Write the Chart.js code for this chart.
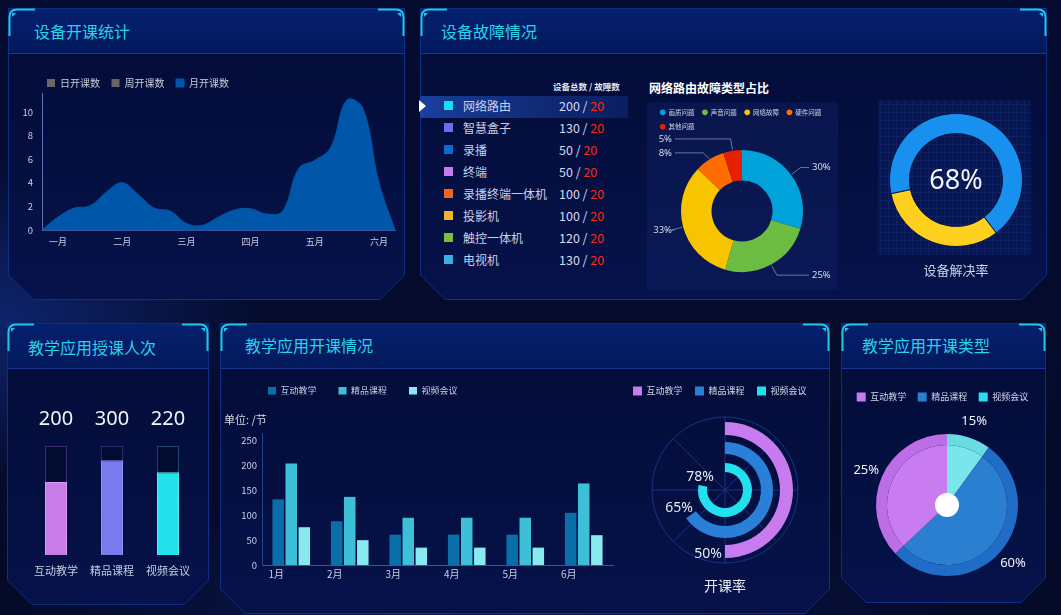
<!DOCTYPE html>
<html><head><meta charset="utf-8">
<script src="https://cdn.jsdelivr.net/npm/chart.js@4.4.1/dist/chart.umd.min.js"></script>
<style>
html,body{margin:0;padding:0;}
body{width:1061px;height:615px;overflow:hidden;position:relative;font-family:"Noto Sans CJK SC","Noto Sans",sans-serif;
background:
 radial-gradient(ellipse 380px 240px at 0px 320px, rgba(22,56,160,0.55), rgba(0,0,0,0) 70%),
 radial-gradient(ellipse 700px 260px at 480px 650px, rgba(22,44,140,0.45), rgba(0,0,0,0) 70%),
 linear-gradient(180deg,#050c30,#040a28);}
#frames{position:absolute;left:0;top:0;}
canvas{position:absolute;}
.title{position:absolute;color:#27d2ec;font-size:16px;line-height:20px;white-space:nowrap;}
.t2{position:absolute;white-space:nowrap;}
.sq{position:absolute;width:9px;height:9px;}
.nm{position:absolute;font-size:12px;line-height:18px;color:#c8d0ea;white-space:nowrap;}
.num{position:absolute;font-size:12.5px;line-height:18px;color:#d4dbf0;white-space:nowrap;}
.red{color:#ff2a12;}
</style></head>
<body>
<div id="frames"></div>
<div id="texts"></div>
<canvas id="c1" width="397" height="195" style="left:8px;top:60px"></canvas>
<canvas id="c2" width="195" height="190" style="left:645px;top:100px"></canvas>
<canvas id="c3" width="170" height="195" style="left:870px;top:95px"></canvas>
<canvas id="c4" width="202" height="220" style="left:7px;top:380px"></canvas>
<canvas id="c5" width="400" height="225" style="left:220px;top:375px"></canvas>
<canvas id="c6" width="200" height="220" style="left:630px;top:380px"></canvas>
<canvas id="c7" width="200" height="220" style="left:845px;top:380px"></canvas>
<script>
// ================= DATA =================
const panelTitles = ['设备开课统计','设备故障情况','教学应用授课人次','教学应用开课情况','教学应用开课类型'];

const areaMonths = ['一月','二月','三月','四月','五月','六月'];
const areaDaily = [];
const areaWeekly = [];
const areaMonthly = [0,1.1,1.85,2.05,3.2,4.0,3.0,1.85,1.6,0.55,0.4,1.1,1.7,1.8,1.35,1.6,5.2,5.9,7.0,11.0,10.3,4.0,0];

const deviceNames = ['网络路由','智慧盒子','录播','终端','录播终端一体机','投影机','触控一体机','电视机'];
const deviceTotals = [200,130,50,50,100,100,120,130];
const deviceFaults = [20,20,20,20,20,20,20,20];

const faultTypes = ['画质问题','声音问题','网络故障','硬件问题','其他问题'];
const faultShares = [30,25,33,8,5];

const resolveRate = 68;

const appTypes = ['互动教学','精品课程','视频会议'];
const lessonCounts = [200,300,220];
const lessonFillPct = [67,87,76];
const lessonTrack = [100,100,100];

const months = ['1月','2月','3月','4月','5月','6月'];
const interactiveCounts = [132,88,61,61,61,105];
const qualityCounts = [204,137,95,95,95,164];
const meetingCounts = [76,50,35,35,35,60];

const openRates = [50,65,78];

const typeShares = [37,53,10];
const typeLabels = ['25%','60%','15%'];

// ================= STYLE / LAYOUT =================
const FONT = '"Noto Sans CJK SC","Noto Sans",sans-serif';
Chart.defaults.font.family = FONT;
Chart.defaults.animation = false;
Chart.defaults.devicePixelRatio = 1;

const panels = [
 {x1:8,y1:8,x2:405,y2:300,hb:53,c:25,tx:34,ty:21},
 {x1:420,y1:8,x2:1047,y2:300,hb:53,c:25,tx:441,ty:21},
 {x1:7,y1:323,x2:209,y2:605,hb:368,c:25,tx:28,ty:337},
 {x1:220,y1:323,x2:830,y2:614,hb:368,c:25,tx:245,ty:335},
 {x1:841,y1:323,x2:1046,y2:603,hb:368,c:25,tx:862,ty:335}
];
(function drawFrames(){
  let s = '<svg width="1061" height="615" xmlns="http://www.w3.org/2000/svg"><defs>'+
   '<linearGradient id="gb" x1="0" y1="0" x2="0" y2="1"><stop offset="0" stop-color="#030c36"/><stop offset="1" stop-color="#06124a"/></linearGradient>'+
   '<linearGradient id="gh" x1="0" y1="0" x2="0" y2="1"><stop offset="0" stop-color="#05206e"/><stop offset="1" stop-color="#03195c"/></linearGradient>'+
   '<linearGradient id="gr" x1="0" y1="0" x2="1" y2="0"><stop offset="0" stop-color="#1a3f9e"/><stop offset="1" stop-color="#0f2a78" stop-opacity="0.6"/></linearGradient>'+
   '<pattern id="grid" width="8" height="8" patternUnits="userSpaceOnUse"><path d="M8 0.5 H0.5 V8" fill="none" stroke="rgba(60,95,190,0.16)" stroke-width="1"/></pattern>'+
   '</defs>';
  panels.forEach(p=>{
    const {x1,y1,x2,y2,hb,c} = p;
    const pts = `${x1+.5},${y1+.5} ${x2-.5},${y1+.5} ${x2-.5},${y2-c} ${x2-c},${y2-.5} ${x1+c},${y2-.5} ${x1+.5},${y2-c}`;
    s += `<polygon points="${pts}" fill="url(#gb)"/>`;
    s += `<rect x="${x1}" y="${y1}" width="${x2-x1}" height="${hb-y1}" fill="url(#gh)"/>`;
    s += `<line x1="${x1}" y1="${hb+.5}" x2="${x2}" y2="${hb+.5}" stroke="#16398f" stroke-width="1"/>`;
    s += `<polygon points="${pts}" fill="none" stroke="#0f2f86" stroke-width="1"/>`;
    s += `<path d="M${x1+1.5} ${y1+28} V${y1+9} Q${x1+1.5} ${y1+1.5} ${x1+9} ${y1+1.5} H${x1+27}" fill="none" stroke="#1fc6e6" stroke-width="2"/>`;
    s += `<path d="M${x2-1.5} ${y1+28} V${y1+9} Q${x2-1.5} ${y1+1.5} ${x2-9} ${y1+1.5} H${x2-27}" fill="none" stroke="#1fc6e6" stroke-width="2"/>`;
    s += `<path d="M${x1+4} ${y1+5} L${x1+8} ${y1+5} L${x1+4} ${y1+9}Z" fill="#1fc6e6"/>`;
    s += `<path d="M${x2-4} ${y1+5} L${x2-8} ${y1+5} L${x2-4} ${y1+9}Z" fill="#1fc6e6"/>`;
  });
  s += '<rect x="647" y="102" width="191" height="188" fill="rgba(16,34,100,0.45)"/>';
  s += '<rect x="878" y="100" width="153" height="155" fill="rgba(10,30,95,0.55)"/>';
  s += '<rect x="878" y="100" width="153" height="155" fill="url(#grid)"/>';
  s += '<rect x="420" y="96" width="208" height="22" fill="url(#gr)"/>';
  s += '<path d="M419 100 L426 106 L419 112Z" fill="#ffffff"/>';
  s += '</svg>';
  document.getElementById('frames').innerHTML = s;
})();

(function drawTexts(){
  let h = '';
  panels.forEach((p,i)=>{ h += `<div class="title" style="left:${p.tx}px;top:${p.ty}px">${panelTitles[i]}</div>`; });
  h += '<div class="t2" style="left:553px;top:79px;font-size:8.5px;line-height:14px;font-weight:bold;color:#e2e6f2">设备总数 / 故障数</div>';
  h += '<div class="t2" style="left:649px;top:80px;font-size:12px;line-height:16px;font-weight:bold;color:#ffffff">网络路由故障类型占比</div>';
  const deviceColors = ['#12e0f0','#6c6cf2','#0a6ad2','#c67cf0','#f26422','#f2b232','#7cbc3e','#3eaee2'];
  deviceNames.forEach((n,i)=>{
    const cy = 106 + 22*i;
    h += `<div class="sq" style="left:444px;top:${cy-5}px;background:${deviceColors[i]}"></div>`;
    h += `<div class="nm" style="left:463px;top:${cy-9}px">${n}</div>`;
    h += `<div class="num" style="left:559px;top:${cy-9}px">${deviceTotals[i]} / <span class="red">${deviceFaults[i]}</span></div>`;
  });
  document.getElementById('texts').innerHTML = h;
})();

// ---- legend positioning plugin (legend takes no layout space, placed at given spot) ----
const fixLegend = {
  id:'fixLegend',
  beforeLayout(chart, args, o){
    const lg = chart.legend;
    if (!lg || lg._fixed || o.x == null) return;
    const f = lg.fit.bind(lg);
    lg.fit = function(){ this.maxWidth = o.w || 500; f(); this.width = this.maxWidth; this.height = 0; };
    lg._fixed = true;
  },
  afterLayout(chart, args, o){
    const lg = chart.legend;
    if (!lg || o.x == null) return;
    const lo = lg.options.labels;
    const fs = o.fs;
    let bh = lo.boxHeight == null ? fs : lo.boxHeight;
    if (lo.usePointStyle) bh = Math.min(bh, fs);
    const ih = Math.max(fs, bh);
    lg.left = o.x - lo.padding; lg.right = lg.left + (o.w || 500);
    lg.top = o.y - lo.padding - ih/2; lg.bottom = lg.top + (o.h || 60);
  }
};
const noTip = {enabled:false};

// ================= CHART 1: area =================
new Chart(document.getElementById('c1'), {
  type:'line',
  data:{
    labels: areaMonthly.map((_,i)=> (i%4===1) ? areaMonths[(i-1)/4] : ''),
    datasets:[
      {label:'日开课数', data:areaDaily, backgroundColor:'#676767', borderColor:'#676767', borderWidth:0},
      {label:'周开课数', data:areaWeekly, backgroundColor:'#676767', borderColor:'#676767', borderWidth:0},
      {label:'月开课数', data:areaMonthly, backgroundColor:'#0056a8', borderColor:'#0056a8', borderWidth:1, fill:'origin', tension:0.4, pointRadius:0}
    ]
  },
  options:{
    responsive:false,
    layout:{padding:{left:0,right:10,top:33,bottom:5}},
    scales:{
      x:{grid:{display:false,drawTicks:false}, border:{color:'#33569e'},
         ticks:{autoSkip:false,maxRotation:0,color:'#c8cde0',font:{size:9},padding:6},
         afterFit:s=>{s.height=20;}},
      y:{min:0,max:11.6,grid:{display:false,drawTicks:false}, border:{color:'#5670b0'},
         ticks:{stepSize:2,includeBounds:false,color:'#c8cde0',font:{size:9.5},padding:9},
         afterBuildTicks:ax=>{ax.ticks = ax.ticks.filter(t=>t.value<=10 && t.value%2===0);},
         afterFit:s=>{s.width=34;}}
    },
    plugins:{
      legend:{align:'start',labels:{boxWidth:8,boxHeight:8,padding:11.5,color:'#c8ccd8',font:{size:10}}},
      fixLegend:{x:39,y:23,fs:10,w:380,h:30},
      tooltip:noTip
    }
  },
  plugins:[fixLegend]
});

// ================= CHART 2: fault donut =================
const donutLabels = {
  id:'donutLabels',
  afterDatasetsDraw(chart){
    const ctx = chart.ctx, meta = chart.getDatasetMeta(0);
    const items = meta.data.map((arc,i)=>{
      const mid = (arc.startAngle + arc.endAngle)/2;
      const cos = Math.cos(mid), sin = Math.sin(mid);
      const R = arc.outerRadius;
      return {i, cx:arc.x, cy:arc.y, right: cos>=0,
        p1:{x:arc.x+cos*(R+1), y:arc.y+sin*(R+1)},
        p2:{x:arc.x+cos*(R+12), y:arc.y+sin*(R+12)}, ly:arc.y+sin*(R+12)};
    });
    [true,false].forEach(side=>{
      const arr = items.filter(it=>it.right===side).sort((a,b)=>a.ly-b.ly);
      for (let k=1;k<arr.length;k++) if (arr[k].ly < arr[k-1].ly+14) arr[k].ly = arr[k-1].ly+14;
    });
    ctx.save();
    ctx.strokeStyle = 'rgba(150,160,185,0.7)'; ctx.lineWidth = 1;
    ctx.fillStyle = '#d6dae6'; ctx.font = '9.5px "Noto Sans",sans-serif'; ctx.textBaseline = 'middle';
    items.forEach(it=>{
      const ex = it.right ? it.cx + 67 : it.cx - 67;
      ctx.beginPath(); ctx.moveTo(it.p1.x,it.p1.y); ctx.lineTo(it.p2.x,it.ly); ctx.lineTo(ex,it.ly); ctx.stroke();
      ctx.textAlign = it.right ? 'left' : 'right';
      ctx.fillText(faultShares[it.i]+'%', it.right ? ex+3 : ex-3, it.ly);
    });
    ctx.restore();
  }
};
new Chart(document.getElementById('c2'), {
  type:'doughnut',
  data:{labels:faultTypes, datasets:[{data:faultShares,
    backgroundColor:['#00a2da','#6cbb42','#f6c500','#ff6c00','#e42000'], borderWidth:0, hoverOffset:0}]},
  options:{
    responsive:false, cutout:'50%',
    layout:{padding:{left:36,right:37,top:50,bottom:18}},
    plugins:{
      legend:{align:'start',labels:{usePointStyle:true,pointStyle:'circle',boxWidth:5,boxHeight:4,padding:8,color:'#d0d4e2',font:{size:6.5}}},
      fixLegend:{x:15.2,y:12.3,fs:6.5,w:190,h:40},
      tooltip:noTip
    }
  },
  plugins:[fixLegend, donutLabels]
});

// ================= CHART 3: resolve-rate gauge =================
const gaugeText = {
  id:'gaugeText',
  afterDraw(chart){
    const {ctx, chartArea:a} = chart;
    const cx = (a.left+a.right)/2, cy = (a.top+a.bottom)/2;
    ctx.save(); ctx.textAlign='center'; ctx.textBaseline='middle';
    ctx.fillStyle='#f4f6fa'; ctx.font='27px "Noto Sans",sans-serif';
    ctx.fillText(resolveRate+'%', cx, cy+1);
    ctx.fillStyle='#c8d0e4'; ctx.font='13px '+FONT;
    ctx.fillText('设备解决率', cx, a.bottom+23);
    ctx.restore();
  }
};
new Chart(document.getElementById('c3'), {
  type:'doughnut',
  data:{labels:['已解决','未解决'], datasets:[{data:[resolveRate,100-resolveRate],
    backgroundColor:['#1890f0','#fed11f'], borderColor:'#0a1640', borderWidth:1, hoverOffset:0}]},
  options:{responsive:false, cutout:'70%', rotation:258,
    layout:{padding:{left:19,right:17,top:18,bottom:43}},
    plugins:{legend:{display:false}, tooltip:noTip}},
  plugins:[gaugeText]
});

// ================= CHART 4: lesson counts (progress bars) =================
const countText = {
  id:'countText',
  afterDatasetsDraw(chart){
    const ctx = chart.ctx, meta = chart.getDatasetMeta(0), a = chart.chartArea;
    ctx.save(); ctx.textAlign='center'; ctx.textBaseline='middle';
    ctx.fillStyle='#f2f4f8'; ctx.font='20px "Noto Sans",sans-serif';
    meta.data.forEach((b,i)=> ctx.fillText(String(lessonCounts[i]), b.x, a.top-27));
    ctx.restore();
  }
};
new Chart(document.getElementById('c4'), {
  type:'bar',
  data:{labels:appTypes, datasets:[
    {label:'fill', data:lessonFillPct, backgroundColor:['#c97ce9','#7a7aef','#24e2ec'],
     borderColor:['#d89af2','#9190f5','#5aeef4'], borderWidth:1, grouped:false, barPercentage:0.393, categoryPercentage:1},
    {label:'track', data:lessonTrack, backgroundColor:'rgba(3,8,40,0.6)',
     borderColor:['#3a2c70','#2c2c72','#1a4a72'], borderWidth:1, grouped:false, barPercentage:0.393, categoryPercentage:1}
  ]},
  options:{responsive:false,
    layout:{padding:{left:21,right:13,top:66,bottom:15}},
    scales:{
      x:{grid:{display:false,drawTicks:false}, border:{display:false},
         ticks:{color:'#c4cce0',font:{size:11},padding:9}, afterFit:s=>{s.height=30;}},
      y:{display:false,min:0,max:100}
    },
    plugins:{legend:{display:false}, tooltip:noTip}},
  plugins:[countText]
});

// ================= CHART 5: grouped bars =================
const unitText = {
  id:'unitText',
  afterDraw(chart){
    const ctx = chart.ctx, a = chart.chartArea;
    ctx.save(); ctx.textAlign='left'; ctx.textBaseline='middle';
    ctx.fillStyle='#d6dcea'; ctx.font='11px '+FONT;
    ctx.fillText('单位: /节', 4, a.top-13);
    ctx.restore();
  }
};
const barCommon = {categoryPercentage:0.67, barPercentage:0.88, borderWidth:0};
new Chart(document.getElementById('c5'), {
  type:'bar',
  data:{labels:months, datasets:[
    Object.assign({label:appTypes[0], data:interactiveCounts, backgroundColor:'#0a6ea8'}, barCommon),
    Object.assign({label:appTypes[1], data:qualityCounts, backgroundColor:'#3ebfd8'}, barCommon),
    Object.assign({label:appTypes[2], data:meetingCounts, backgroundColor:'#88e9ef'}, barCommon)
  ]},
  options:{responsive:false,
    layout:{padding:{left:0,right:7,top:58,bottom:10}},
    scales:{
      x:{grid:{display:false,drawTicks:false}, border:{color:'#2d58aa'},
         ticks:{color:'#c8d0e6',font:{size:10},padding:3,labelOffset:-15}, afterFit:s=>{s.height=25;}},
      y:{min:0,max:265.5,grid:{display:false,drawTicks:false}, border:{color:'#243f88'},
         ticks:{stepSize:50,includeBounds:false,color:'#c8d0e6',font:{size:9.5},padding:5},
         afterBuildTicks:ax=>{ax.ticks = ax.ticks.filter(t=>t.value<=250 && t.value%50===0);},
         afterFit:s=>{s.width=42;}}
    },
    plugins:{
      legend:{align:'start',labels:{boxWidth:8,boxHeight:8,padding:22,color:'#c8d0e2',font:{size:9}}},
      fixLegend:{x:48,y:16,fs:9,w:380,h:30},
      tooltip:noTip
    }
  },
  plugins:[fixLegend, unitText]
});

// ================= CHART 6: open rate radial bars =================
const rateColors = ['#c77bee','#2a80d6','#22e0ec'];
const radialDecor = {
  id:'radialDecor',
  beforeDatasetsDraw(chart){
    const ctx = chart.ctx, a = chart.chartArea;
    const cx = (a.left+a.right)/2, cy = (a.top+a.bottom)/2, R = Math.min(a.right-a.left, a.bottom-a.top)/2;
    ctx.save(); ctx.strokeStyle='#1b3388'; ctx.lineWidth=1;
    ctx.beginPath(); ctx.arc(cx,cy,R,0,Math.PI*2); ctx.stroke();
    for (let k=0;k<8;k++){ const t=k*Math.PI/4; ctx.beginPath(); ctx.moveTo(cx,cy); ctx.lineTo(cx+Math.cos(t)*R, cy+Math.sin(t)*R); ctx.stroke(); }
    ctx.restore();
  },
  afterDatasetsDraw(chart){
    const ctx = chart.ctx, a = chart.chartArea;
    ctx.save(); ctx.textAlign='center'; ctx.textBaseline='middle';
    ctx.fillStyle='#e6e9f2'; ctx.font='14px "Noto Sans",sans-serif';
    chart.data.datasets.forEach((ds,di)=>{
      if (ds.rateIndex == null) return;
      const arc = chart.getDatasetMeta(di).data[0];
      const rm = (arc.innerRadius + arc.outerRadius)/2, e = arc.endAngle;
      const px = arc.x + Math.cos(e)*rm, py = arc.y + Math.sin(e)*rm;
      const tx = -Math.sin(e), ty = Math.cos(e);
      ctx.fillText(openRates[ds.rateIndex]+'%', px + tx*12 - 5, py + ty*12 + 3);
    });
    ctx.font='14px '+FONT; ctx.fillStyle='#e8ecf4';
    ctx.fillText('开课率', (a.left+a.right)/2, a.bottom+23);
    ctx.restore();
  }
};
const ring = (i, w) => ({label:appTypes[i], rateIndex:i, data:[openRates[i], 100-openRates[i]],
  backgroundColor:[rateColors[i],'rgba(0,0,0,0)'], borderWidth:0, hoverOffset:0, weight:w});
const gap = (w) => ({label:'', data:[], borderWidth:0, weight:w});
new Chart(document.getElementById('c6'), {
  type:'doughnut',
  data:{labels:['开课','未开课'], datasets:[gap(5), ring(0,13), gap(7), ring(1,12), gap(9), ring(2,9)]},
  options:{responsive:false, cutout:'24.66%',
    layout:{padding:{left:22,right:32,top:37,bottom:37}},
    plugins:{
      legend:{align:'start',labels:{boxWidth:9,boxHeight:9,padding:12.5,color:'#d0d6e8',font:{size:9},
        generateLabels:()=>appTypes.map((t,i)=>({text:t,fillStyle:rateColors[i],strokeStyle:rateColors[i],lineWidth:0,hidden:false,fontColor:'#d0d6e8',datasetIndex:i}))}},
      fixLegend:{x:3,y:11,fs:9,w:300,h:30},
      tooltip:noTip
    }
  },
  plugins:[fixLegend, radialDecor]
});

// ================= CHART 7: type pie =================
const order = [2,1,0]; // drawn clockwise from top
const typeOuter = ['#bd6ee6','#1f6dc6','#6bdbe2'];
const typeInner = ['#c87cef','#2a7fd1','#7ae5ea'];
const typeLegend = ['#c77bee','#2a7fd1','#26e0ec'];
const pieDecor = {
  id:'pieDecor',
  afterDatasetsDraw(chart){
    const ctx = chart.ctx, meta = chart.getDatasetMeta(0);
    ctx.save(); ctx.textAlign='center'; ctx.textBaseline='middle';
    ctx.fillStyle='#f0f2f8'; ctx.font='13px "Noto Sans",sans-serif';
    meta.data.forEach((arc,j)=>{
      const mid=(arc.startAngle+arc.endAngle)/2, r=arc.outerRadius+17;
      ctx.fillText(typeLabels[order[j]], arc.x+Math.cos(mid)*r, arc.y+Math.sin(mid)*r);
    });
    const a0 = meta.data[0];
    ctx.fillStyle='#ffffff'; ctx.beginPath(); ctx.arc(a0.x,a0.y,12,0,Math.PI*2); ctx.fill();
    ctx.restore();
  }
};
new Chart(document.getElementById('c7'), {
  type:'pie',
  data:{labels:order.map(i=>appTypes[i]), datasets:[
    {data:order.map(i=>typeShares[i]), backgroundColor:order.map(i=>typeOuter[i]), borderWidth:0, hoverOffset:0, weight:11},
    {data:order.map(i=>typeShares[i]), backgroundColor:order.map(i=>typeInner[i]), borderWidth:0, hoverOffset:0, weight:60}
  ]},
  options:{responsive:false,
    layout:{padding:{left:31,right:27,top:54,bottom:24}},
    plugins:{
      legend:{align:'start',labels:{boxWidth:9,boxHeight:9,padding:11.5,color:'#d0d6e8',font:{size:9},
        generateLabels:()=>appTypes.map((t,i)=>({text:t,fillStyle:typeLegend[i],strokeStyle:typeLegend[i],lineWidth:0,hidden:false,fontColor:'#d0d6e8',index:i}))}},
      fixLegend:{x:11.7,y:17,fs:9,w:300,h:30},
      tooltip:noTip
    }
  },
  plugins:[fixLegend, pieDecor]
});
</script>
</body></html>
